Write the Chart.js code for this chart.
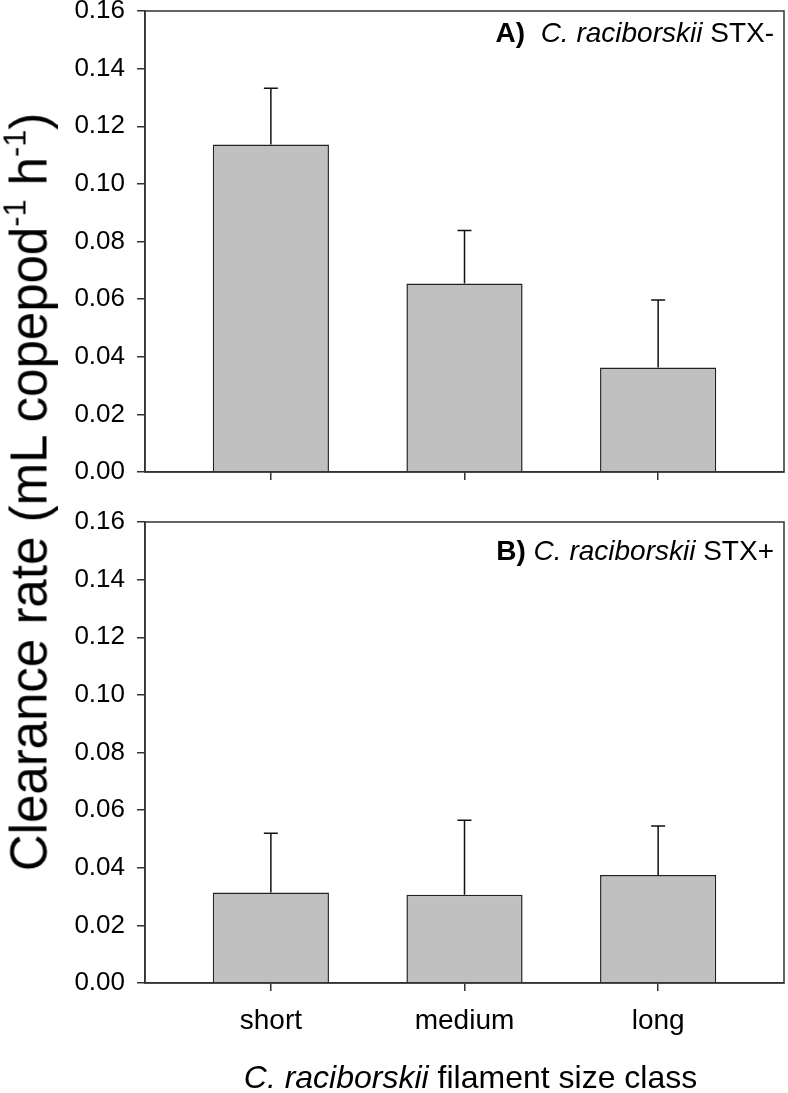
<!DOCTYPE html>
<html>
<head>
<meta charset="utf-8">
<script src="https://cdn.jsdelivr.net/npm/chart.js@4.4.1/dist/chart.umd.min.js"></script>
<style>
  body { margin: 0; background: #fff; }
  #wrap { position: relative; width: 788px; height: 1093px; overflow: hidden; font-family: "Liberation Sans", Arial, sans-serif; }
  #topChart { position: absolute; left: 0; top: -20px; }
  #bottomChart { position: absolute; left: 0; top: 480px; }
  #yTitle { position: absolute; left: 29px; top: 492px; transform: translate(-50%, -50%) rotate(-90deg);
            white-space: nowrap; font-size: 51px; line-height: 1; color: #000; }
  #yTitle sup { font-size: 60%; vertical-align: 0.7em; line-height: 0; }
</style>
</head>
<body>
<div id="wrap">
  <canvas id="topChart" width="788" height="520"></canvas>
  <canvas id="bottomChart" width="788" height="613"></canvas>
  <div id="yTitle">Clearance rate (mL copepod<sup>-1</sup> h<sup>-1</sup>)</div>
</div>
<script>
// data
var categories = ['short', 'medium', 'long'];
var stxNegMean = [0.1137, 0.0654, 0.0363];
var stxNegErr = [0.0195, 0.0184, 0.0234];
var stxPosMean = [0.0314, 0.0306, 0.0375];
var stxPosErr = [0.0206, 0.0259, 0.0170];
var yTickValues = [0, 0.02, 0.04, 0.06, 0.08, 0.10, 0.12, 0.14, 0.16];

var fontFamily = '"Liberation Sans", Arial, sans-serif';
Chart.defaults.font.family = fontFamily;
Chart.defaults.color = '#000';

// upper error bars
var errorBarPlugin = {
	id: 'errorBars',
	afterDatasetsDraw: function(chart, args, opts) {
		var ctx = chart.ctx;
		var yScale = chart.scales.y;
		var points = chart.data.datasets[0].data;
		ctx.save();
		ctx.strokeStyle = '#111';
		ctx.lineWidth = 1.5;
		chart.getDatasetMeta(0).data.forEach(function(bar, i) {
			var top = yScale.getPixelForValue(points[i].y + opts.errs[i]);
			ctx.beginPath();
			ctx.moveTo(bar.x, bar.y);
			ctx.lineTo(bar.x, top);
			ctx.moveTo(bar.x - 7, top);
			ctx.lineTo(bar.x + 7, top);
			ctx.stroke();
		});
		ctx.restore();
	}
};

// box round the plot area
var framePlugin = {
	id: 'frame',
	afterDraw: function(chart) {
		var a = chart.chartArea;
		var ctx = chart.ctx;
		ctx.save();
		ctx.strokeStyle = '#333';
		ctx.lineWidth = 1.5;
		ctx.strokeRect(a.left, a.top, a.right - a.left, a.bottom - a.top);
		ctx.restore();
	}
};

// mixed-style text runs (bold / italic / plain)
function drawRuns(ctx, parts, x, y, align) {
	var total = 0;
	parts.forEach(function(p) { ctx.font = p.font; total += ctx.measureText(p.text).width; });
	var start = align === 'right' ? x - total : x - total / 2;
	ctx.textBaseline = 'alphabetic';
	ctx.textAlign = 'left';
	parts.forEach(function(p) {
		ctx.font = p.font;
		ctx.fillText(p.text, start, y);
		start += ctx.measureText(p.text).width;
	});
}

var textPlugin = {
	id: 'panelText',
	afterDraw: function(chart, args, opts) {
		var a = chart.chartArea;
		var ctx = chart.ctx;
		ctx.save();
		ctx.fillStyle = '#000';
		drawRuns(ctx, opts.label, a.right - 10, a.top + opts.labelDrop, 'right');
		if (opts.xTitle) {
			drawRuns(ctx, opts.xTitle, (a.left + a.right) / 2 + 6, a.bottom + 105, 'center');
		}
		ctx.restore();
	}
};

function makeChart(id, means, errs, label, labelDrop, xTitle) {
	var points = means.map(function(v, i) { return { x: i + 1, y: v }; });
	return new Chart(document.getElementById(id), {
		type: 'bar',
		data: {
			datasets: [{
				data: points,
				backgroundColor: '#c0c0c0',
				borderColor: '#222',
				borderWidth: 1.5,
				barPercentage: 0.6,
				categoryPercentage: 1
			}]
		},
		options: {
			responsive: false,
			animation: false,
			layout: { padding: { top: id === 'topChart' ? 31 : 42, right: 4, left: 0, bottom: 0 } },
			plugins: {
				legend: { display: false },
				tooltip: { enabled: false },
				errorBars: { errs: errs },
				panelText: { label: label, labelDrop: labelDrop, xTitle: xTitle }
			},
			scales: {
				x: {
					type: 'linear',
					offset: false,
					min: 0.35,
					max: 3.65,
					afterBuildTicks: function(scale) {
						scale.ticks = categories.map(function(c, i) { return { value: i + 1 }; });
					},
					afterFit: function(scale) { scale.height = xTitle ? 110 : 28; },
					grid: { offset: false, drawOnChartArea: false, drawTicks: true, tickLength: 8, color: '#333', lineWidth: 1.5 },
					border: { display: true, color: '#333', width: 1.5 },
					ticks: {
						display: !!xTitle,
						padding: 13,
						maxRotation: 0,
						autoSkip: false,
						font: { size: 28 },
						callback: function(v) { return categories[v - 1]; }
					}
				},
				y: {
					min: 0,
					max: 0.16,
					afterBuildTicks: function(scale) {
						scale.ticks = yTickValues.map(function(v) { return { value: v }; });
					},
					afterFit: function(scale) { scale.width = 145; },
					grid: { drawOnChartArea: false, drawTicks: true, tickLength: 8, color: '#333', lineWidth: 1.5 },
					border: { display: true, color: '#333', width: 1.5 },
					ticks: {
						padding: 12,
						font: { size: 26 },
						callback: function(v) { return v.toFixed(2); }
					}
				}
			}
		},
		plugins: [errorBarPlugin, framePlugin, textPlugin]
	});
}

var boldF = 'bold 28px ' + fontFamily;
var italicF = 'italic 28px ' + fontFamily;
var plainF = '28px ' + fontFamily;

makeChart('topChart', stxNegMean, stxNegErr,
	[{ text: 'A)  ', font: boldF }, { text: 'C. raciborskii', font: italicF }, { text: ' STX-', font: plainF }], 31, null);

makeChart('bottomChart', stxPosMean, stxPosErr,
	[{ text: 'B) ', font: boldF }, { text: 'C. raciborskii', font: italicF }, { text: ' STX+', font: plainF }], 38,
	[{ text: 'C. raciborskii', font: 'italic 32px ' + fontFamily }, { text: ' filament size class', font: '32px ' + fontFamily }]);
</script>
</body>
</html>
